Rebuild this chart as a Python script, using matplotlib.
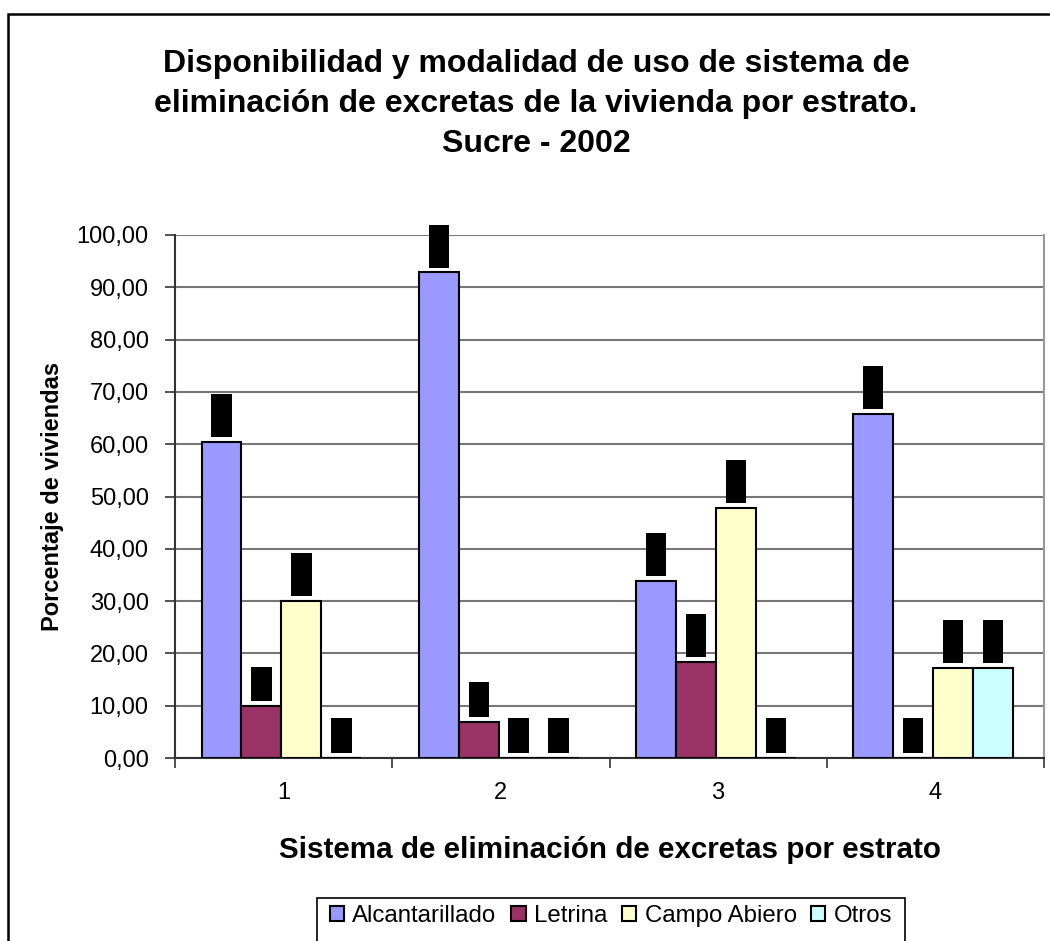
import numpy as np
from matplotlib import pyplot as plt
from matplotlib.patches import Rectangle
from matplotlib.ticker import FuncFormatter, FixedLocator

plt.rcParams['font.family'] = ['Liberation Sans', 'DejaVu Sans']

estratos = ['1', '2', '3', '4']
series = ['Alcantarillado', 'Letrina', 'Campo Abiero', 'Otros']
alcantarillado = [60.51, 92.86, 33.81, 65.79]
letrina = [9.89, 6.92, 18.37, 0.0]
campo_abierto = [30.00, 0.0, 47.79, 17.24]
otros = [0.0, 0.0, 0.0, 17.24]

colours = ['#9999FF', '#993366', '#FFFFCC', '#CCFFFF']
values = np.asarray([alcantarillado, letrina, campo_abierto, otros])

fig = plt.figure(figsize=(10.5, 9.41), dpi=100)
ax = fig.add_axes([175/1050, 1 - 758/941, 869/1050, (758 - 235)/941])

x = np.arange(len(estratos))
width = 0.184
for i, (colour, name) in enumerate(zip(colours, series)):
    pos = x + (i - 1.5) * width - 0.01
    ax.bar(pos, values[i], width, color=colour, edgecolor='black',
           linewidth=1.5, label=name, zorder=3)
    # data labels
    for xp, v in zip(pos, values[i]):
        lab = f'{v:.2f}'.replace('.', ',')
        ax.annotate(lab, (xp, v), xytext=(0, 8), textcoords='offset pixels',
                    ha='center', va='bottom', rotation=90, fontsize=10.5,
                    color='black', zorder=4,
                    bbox=dict(boxstyle='square,pad=0.22', fc='black', ec='none'))

ax.set_xlim(-0.5, 3.5)
ax.set_ylim(0, 100)
ax.set_yticks(np.arange(0, 101, 10))
ax.yaxis.set_major_formatter(FuncFormatter(lambda v, p: f'{v:.2f}'.replace('.', ',')))
ax.set_xticks(x)
ax.set_xticklabels(estratos)
ax.xaxis.set_minor_locator(FixedLocator(np.arange(-0.5, 3.6, 1)))
ax.tick_params(axis='x', which='major', length=0, pad=17, labelsize=17)
ax.tick_params(axis='x', which='minor', length=7, width=1.2, color='#333333')
ax.tick_params(axis='y', length=7, width=1.2, color='#333333', labelsize=17, pad=12)
ax.grid(axis='y', color='#777777', linewidth=1.5, zorder=0)
ax.set_axisbelow(True)

ax.spines['top'].set_visible(False)
ax.spines['right'].set_color('#999999')
ax.spines['right'].set_linewidth(1.5)
ax.spines['left'].set_color('#333333')
ax.spines['bottom'].set_color('#333333')
ax.spines['left'].set_linewidth(1.5)
ax.spines['bottom'].set_linewidth(1.5)

ax.set_ylabel('Porcentaje de viviendas', fontsize=17, fontweight='bold', labelpad=9)
ax.set_xlabel('Sistema de eliminación de excretas por estrato', fontsize=21.3,
              fontweight='bold', labelpad=23)

fig.text(536/1050, 1 - 49/941,
         'Disponibilidad y modalidad de uso de sistema de\n'
         'eliminación de excretas de la vivienda por estrato.\n'
         'Sucre - 2002',
         ha='center', va='top', fontsize=23, fontweight='bold', linespacing=1.43)

leg = fig.legend(loc='upper center', bbox_to_anchor=(611/1050, 1 - 900/941),
                 ncol=4, fontsize=17.3, frameon=False,
                 handlelength=0.6, handleheight=0.6, handletextpad=0.35,
                 columnspacing=0.6, borderpad=0.2, borderaxespad=0)
for h in leg.legend_handles:
    h.set_linewidth(1.5)

# legend frame runs off the bottom edge
fig.canvas.draw()
bb = leg.get_window_extent().transformed(fig.transFigure.inverted())
pad = 8/1050
fig.patches.append(Rectangle((bb.x0 - pad, -0.1), bb.width + 2*pad, (1 - 898/941) + 0.1,
                             transform=fig.transFigure, fill=False,
                             edgecolor='black', linewidth=1.2))

# chart area border
fig.patches.append(Rectangle((8/1050, -0.1), 1.2, 1.1 - 14/941, transform=fig.transFigure,
                             fill=False, edgecolor='black', linewidth=1.8))

fig.savefig('out.png', dpi=100)
